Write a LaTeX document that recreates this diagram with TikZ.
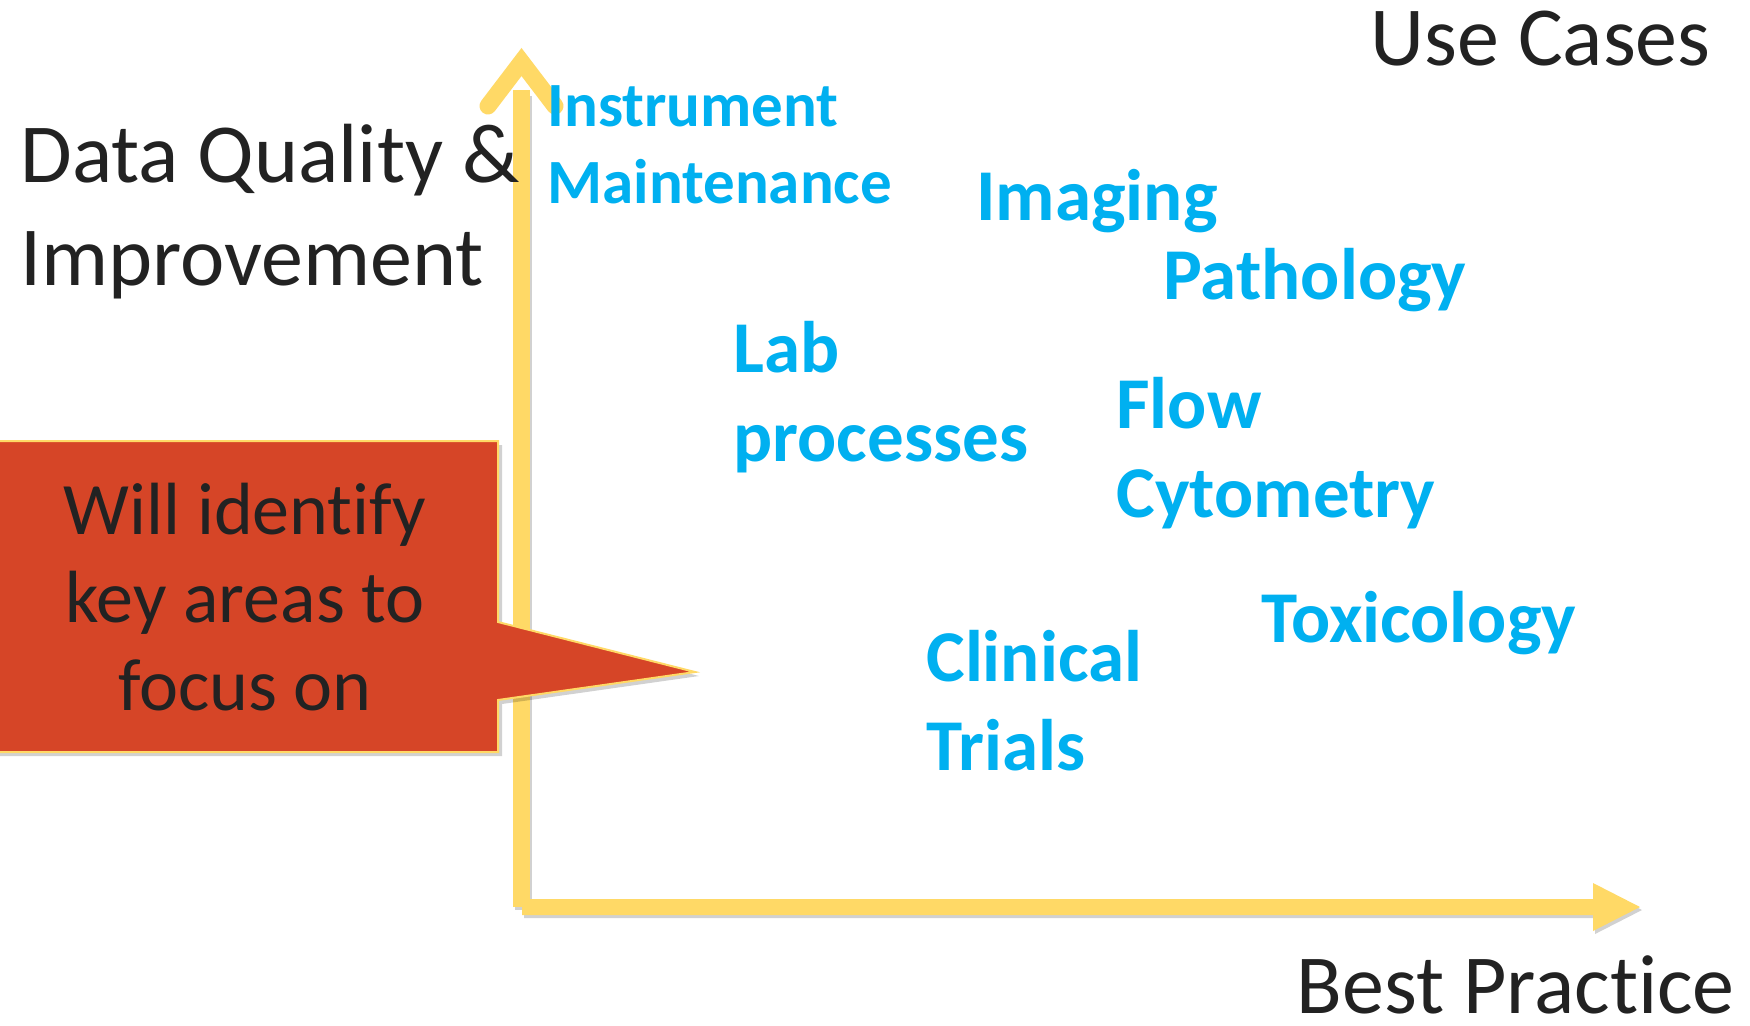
\documentclass[tikz,border=0pt]{standalone}
\usepackage{fontspec}
\setmainfont{Carlito}[Ligatures=NoCommon]
\definecolor{axisyellow}{HTML}{FFD966}
\definecolor{calloutred}{HTML}{D64527}
\definecolor{caseblue}{HTML}{00B0F0}
\definecolor{darktext}{HTML}{222222}
\tikzset{
  bigtext/.style={font=\fontsize{42}{51.5}\selectfont, text=darktext, inner sep=0pt, align=left, text depth=0pt},
  casebig/.style={font=\bfseries\fontsize{36.5}{44.5}\selectfont, text=caseblue, inner sep=0pt, align=left, anchor=base west},
  casesmall/.style={font=\bfseries\fontsize{31.5}{38.5}\selectfont, text=caseblue, inner sep=0pt, align=left, anchor=base west},
  callouttext/.style={font=\fontsize{37}{44}\selectfont, text=darktext, inner sep=0pt, align=center, anchor=base},
  shadowfill/.style={fill=black, opacity=0.18},
}
\begin{document}
\begin{tikzpicture}[x=0.5pt,y=-0.5pt]
\useasboundingbox (0,0) rectangle (1750,1025);
\fill[white] (0,0) rectangle (1750,1025);

% axes
\coordinate (origin) at (521.5,907);
\coordinate (ytip) at (521.5,62);
\coordinate (xhead) at (1593,907);
% shadows
\fill[shadowfill] (515,96) rectangle (532,910);
\fill[shadowfill] (524,902) -- (1595,902) -- (1595,886) -- (1642,910) -- (1595,934) -- (1595,918) -- (524,918) -- cycle;
% vertical axis
\fill[axisyellow] (513,907) rectangle (530,90);
\draw[axisyellow, line width=8.5pt, line cap=round, line join=miter] (488,106) -- (ytip) -- (555,106);
% horizontal axis
\fill[axisyellow] (522,899) -- (1593,899) -- (1593,883) -- (1640,907) -- (1593,931) -- (1593,915) -- (522,915) -- cycle;

% callout
\fill[shadowfill] (-2,445) -- (502,445) -- (502,626) -- (699,676) -- (502,704) -- (502,756) -- (-2,756) -- cycle;
\filldraw[fill=calloutred, draw=axisyellow, line width=1pt] (-2,441) -- (498,441) -- (498,622) -- (695,672) -- (498,700) -- (498,752) -- (-2,752) -- cycle;
\node[callouttext] (callout) at (245,710) {Will identify\\key areas to\\focus on};

% axis labels
\node[bigtext, anchor=base east] (usecases) at (1711,65) {Use Cases};
\node[bigtext, anchor=base west] (dq) at (20,285) {Data Quality \&\\Improvement};
\node[bigtext, anchor=base east] (bestpractice) at (1735,1013) {Best Practice};

% use cases
\node[casesmall] (instr) at (547,203) {Instrument\\Maintenance};
\node[casebig] (imaging) at (976,220) {Imaging};
\node[casebig] (patho) at (1163,299) {Pathology};
\node[casebig] (lab) at (733,461) {Lab\\processes};
\node[casebig] (flow) at (1116,517) {Flow\\Cytometry};
\node[casebig] (tox) at (1261,642) {Toxicology};
\node[casebig] (clin) at (926,770) {Clinical\\Trials};
\end{tikzpicture}
\end{document}
